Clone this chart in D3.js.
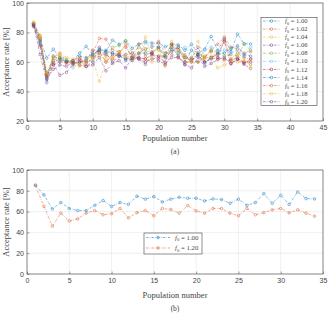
<!DOCTYPE html>
<html>
<head>
<meta charset="utf-8">
<script src="https://cdn.jsdelivr.net/npm/d3@7"></script>
<style>
  body { margin: 0; background: #fff; }
  svg { display: block; }
  .tick text { font-family: "Liberation Sans", Arial, sans-serif; fill: #444; }
  .lbl { font-family: "Liberation Serif", "Times New Roman", serif; fill: #444; }
</style>
</head>
<body>
<div id="chart"></div>
<script>
// population numbers 1..34
const pop = [1,2,3,4,5,6,7,8,9,10,11,12,13,14,15,16,17,18,19,20,21,22,23,24,25,26,27,28,29,30,31,32,33,34];

const f0Labels = ["1.00","1.02","1.04","1.06","1.08","1.10","1.12","1.14","1.16","1.18","1.20"];

const f100 = [85.6,76,62.6,68.7,63,61,61,66,70.6,65,68.7,67,74.8,72,74.4,69.3,72,73.8,72.8,72.8,70.3,72.2,71.6,68,72,66,68.7,77.3,68,75.7,67,78.9,72.5,72.2];
const f102 = [86,78,52,63,66,60,60,62,60,66,76,75.5,68,67,70,64,66,69,70,74,66,68,70,64,62,65,63,68,72,77,70,69,66,67];
const f104 = [87,76,50,62,64,62,58,57,58,63,64,62,63,66,63,62,63,62,60,62,64,70,66,62,63,60,62,64,62,61,61,60,60,58];
const f106 = [85,72,49,55,58,57,60,58,57,60,70,66,60,64,65,66,62,60,62,63,60,70,64,58,62,70,60,62,63,62,61,63,59,62];
const f108 = [86,75,51,61,63,61,60,59,62,64,68,64,70,71,74,66,70,68,66,69,66,71,66,65,60,66,64,68,66,64,65,64,72,68];
const f110 = [86,73,53,60,61,61,56,60,60,61,66,67,66,65,63,61,63,73,71,70,64,69,65,70,63,60,68,70,67,68,66,68,64,70];
const f112 = [84,71,50,58,60,60,59,60,61,68,67,60,65,64,62,63,63,62,65,64,64,72,68,63,61,65,60,63,65,74,59,62,60,60];
const f114 = [85,74,48,64,62,60,61,64,63,65,68,68,66,65,61,62,66,66,66,70,63,67,70,60,68,64,59,63,66,66,69,71,65,64];
const f116 = [86,76,51,60,62,59,61,63,59,63,66,65,62,66,72,61,72,64,67,70,58,65,63,60,60,60,63,67,63,75,62,66,63,62];
const f118 = [87,77,52,64,65,63,62,58,61,62,47,60,62,67,64,63,65,77,63,68,57,74,69,64,61,74,63,63,56,58,60,64,61,58];
const f120 = [85,65,46,58.5,51,53,58.5,61,57,58,63,54,59,61,56,63,62,58.5,65.8,60.7,58.5,63,63,58.5,56,63,57,59,61.7,63,58.8,61.7,58.5,55.6];

const allSeries = [f100,f102,f104,f106,f108,f110,f112,f114,f116,f118,f120];
const colors = ["#0072BD","#D95319","#EDB120","#7E2F8E","#77AC30","#4DBEEE","#A2142F"];

const xTicksA = [0,5,10,15,20,25,30,35,40,45];
const yTicksA = [20,40,60,80,100];
const xTicksB = [0,5,10,15,20,25,30,35];
const yTicksB = [0,20,40,60,80,100];

const W = 331, H = 314;
const svg = d3.select("#chart").append("svg").attr("width", W).attr("height", H);

function drawPanel(opt) {
  const x = d3.scaleLinear().domain(opt.xDomain).range([27, 323]);
  const y = d3.scaleLinear().domain(opt.yDomain).range([opt.bottom, opt.top]);
  const g = svg.append("g");

  // grid
  g.append("g").selectAll("line.gx").data(opt.xTicks).join("line")
    .attr("x1", d => x(d)).attr("x2", d => x(d))
    .attr("y1", opt.top).attr("y2", opt.bottom)
    .attr("stroke", "#e6e6e6").attr("stroke-width", 0.6);
  g.append("g").selectAll("line.gy").data(opt.yTicks).join("line")
    .attr("x1", 27).attr("x2", 323)
    .attr("y1", d => y(d)).attr("y2", d => y(d))
    .attr("stroke", "#e6e6e6").attr("stroke-width", 0.6);

  // axes
  const xa = g.append("g").attr("transform", `translate(0,${opt.bottom})`)
    .call(d3.axisBottom(x).tickValues(opt.xTicks).tickSize(-2.5).tickPadding(4));
  const ya = g.append("g").attr("transform", `translate(27,0)`)
    .call(d3.axisLeft(y).tickValues(opt.yTicks).tickSize(-2.5).tickPadding(3));
  [xa, ya].forEach(a => {
    a.select(".domain").remove();
    a.selectAll("line").attr("stroke", "#444").attr("stroke-width", 0.5);
    a.selectAll("text").attr("font-size", 7);
  });
  g.append("rect").attr("x", 27).attr("y", opt.top)
    .attr("width", 296).attr("height", opt.bottom - opt.top)
    .attr("fill", "none").attr("stroke", "#444").attr("stroke-width", 0.6);

  // series
  const line = d3.line().x((d, i) => x(pop[i])).y(d => y(d));
  opt.series.forEach((s, k) => {
    const c = colors[k % colors.length];
    const sg = g.append("g").attr("opacity", 0.8);
    sg.append("path").datum(allSeries[s]).attr("d", line)
      .attr("fill", "none").attr("stroke", c).attr("stroke-width", 0.6)
      .attr("stroke-dasharray", "2.5,1.2,0.6,1.2");
    sg.selectAll("circle").data(allSeries[s]).join("circle")
      .attr("cx", (d, i) => x(pop[i])).attr("cy", d => y(d)).attr("r", 1.3)
      .attr("fill", "none").attr("stroke", c).attr("stroke-width", 0.6);
  });

  // labels
  svg.append("text").attr("class", "lbl").attr("font-size", 8.5)
    .attr("text-anchor", "middle")
    .attr("transform", `translate(9,${(opt.top + opt.bottom) / 2}) rotate(-90)`)
    .text("Acceptance rate [%]");
  svg.append("text").attr("class", "lbl").attr("font-size", 8.5)
    .attr("text-anchor", "middle").attr("x", 175).attr("y", opt.xLabelY)
    .text("Population number");
  svg.append("text").attr("class", "lbl").attr("font-size", 7.5)
    .attr("text-anchor", "middle").attr("x", 175).attr("y", opt.capY)
    .text(opt.caption);

  // legend
  const L = opt.legend;
  const lg = svg.append("g");
  lg.append("rect").attr("x", L.x).attr("y", L.y).attr("width", L.w).attr("height", L.h)
    .attr("fill", "#fff").attr("stroke", "#444").attr("stroke-width", 0.6);
  opt.series.forEach((s, k) => {
    const c = colors[k % colors.length];
    const yy = L.y + L.pad + k * L.step;
    const e = lg.append("g").attr("opacity", 0.85);
    e.append("line").attr("x1", L.x + 2).attr("x2", L.x + L.lineW)
      .attr("y1", yy).attr("y2", yy).attr("stroke", c).attr("stroke-width", 0.6)
      .attr("stroke-dasharray", "2.5,1.2,0.6,1.2");
    e.append("circle").attr("cx", L.x + 2 + (L.lineW - 2) / 2).attr("cy", yy).attr("r", 1.3)
      .attr("fill", "none").attr("stroke", c).attr("stroke-width", 0.6);
    const t = lg.append("text").attr("class", "lbl").attr("font-size", L.fs)
      .attr("x", L.x + L.lineW + 5).attr("y", yy + L.fs * 0.33);
    t.append("tspan").attr("font-style", "italic").text("f");
    t.append("tspan").attr("font-size", L.fs * 0.7).attr("dy", L.fs * 0.25).text("0");
    t.append("tspan").attr("dy", -L.fs * 0.25).text(" = " + f0Labels[s]);
  });
}

drawPanel({
  xDomain: [0, 45], yDomain: [20, 100], top: 3, bottom: 121,
  xTicks: xTicksA, yTicks: yTicksA,
  series: [0,1,2,3,4,5,6,7,8,9,10],
  xLabelY: 141, capY: 154, caption: "(a)",
  legend: { x: 261, y: 17.5, w: 56, h: 88, pad: 3.5, step: 8.07, lineW: 19, fs: 6.5 }
});

drawPanel({
  xDomain: [0, 35], yDomain: [0, 100], top: 170, bottom: 274,
  xTicks: xTicksB, yTicks: yTicksB,
  series: [0, 10],
  xLabelY: 298, capY: 311, caption: "(b)",
  legend: { x: 144, y: 233, w: 58, h: 21, pad: 4.5, step: 10.5, lineW: 26, fs: 6.8 }
});
</script>
</body>
</html>
